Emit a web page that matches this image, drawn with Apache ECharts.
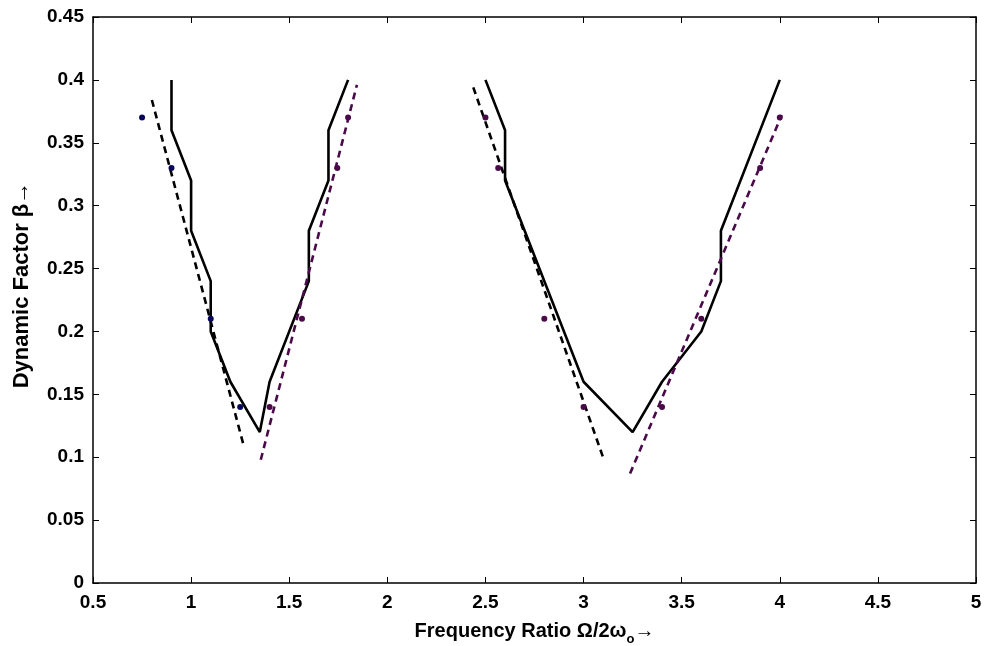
<!DOCTYPE html>
<html>
<head>
<meta charset="utf-8">
<script src="https://cdn.jsdelivr.net/npm/echarts@6/dist/echarts.min.js"></script>
<style>html,body{margin:0;padding:0;background:#fff}#c{width:989px;height:646px}</style>
</head>
<body>
<div id="c"></div>
<script>
// Solid curves (theoretical)
var leftSolidX = [0.9, 0.9, 1.0, 1.0, 1.1, 1.1, 1.2, 1.35, 1.4, 1.6, 1.6, 1.7, 1.7, 1.8];
var leftSolidY = [0.4, 0.36, 0.32, 0.28, 0.24, 0.2, 0.16, 0.12, 0.16, 0.24, 0.28, 0.32, 0.36, 0.4];
var rightSolidX = [2.5, 2.6, 2.6, 3.0, 3.25, 3.4, 3.6, 3.7, 3.7, 4.0];
var rightSolidY = [0.4, 0.36, 0.32, 0.16, 0.12, 0.16, 0.2, 0.24, 0.28, 0.4];
// Experimental points
var ptsNavyX = [0.75, 0.9, 1.1, 1.25];
var ptsNavyY = [0.37, 0.33, 0.21, 0.14];
var ptsPurpleX = [1.4, 1.565, 1.745, 1.8, 2.5, 2.565, 2.8, 3.0, 3.4, 3.6, 3.9, 4.0];
var ptsPurpleY = [0.14, 0.21, 0.33, 0.37, 0.37, 0.33, 0.21, 0.14, 0.14, 0.21, 0.33, 0.37];
// Fitted dashed lines (end points)
var fit1X = [0.8, 1.27];   var fit1Y = [0.384, 0.108];
var fit2X = [1.355, 1.845]; var fit2Y = [0.098, 0.396];
var fit3X = [2.438, 3.106]; var fit3Y = [0.394, 0.097];
var fit4X = [3.237, 4.01];  var fit4Y = [0.087, 0.372];

function zip(xs, ys){ return xs.map(function(x,i){ return [x, ys[i]]; }); }

var NAVY = '#08085a', PURPLE = '#4a0a4a';
var FONT = 'Liberation Sans, Arial, sans-serif';

function lineSeries(xs, ys, color, dashed){
  return {
    type: 'line', data: zip(xs, ys), showSymbol: false, symbol: 'none',
    lineStyle: { color: color, width: 2.6, type: dashed ? [7, 5] : 'solid' },
    z: 2, animation: false
  };
}

var chart = echarts.init(document.getElementById('c'), null, {renderer: 'canvas'});
var axisLine = { show: true, onZero: false, lineStyle: { color: '#000', width: 1.5 } };
chart.setOption({
  backgroundColor: '#fff',
  animation: false,
  grid: { left: 93, right: 13, top: 17, bottom: 63, containLabel: false, outerBoundsMode: 'none' },
  xAxis: [{
    type: 'value', min: 0.5, max: 5, interval: 0.5, position: 'bottom',
    axisLine: axisLine, splitLine: { show: false },
    axisTick: { inside: true, length: 6, lineStyle: { color: '#000', width: 1 } },
    axisLabel: { color: '#000', fontSize: 19, fontWeight: 'bold', fontFamily: FONT, margin: 10 },
    name: '{a|Frequency Ratio Ω/2ω}{s|o}{a|→}',
    nameLocation: 'middle', nameGap: 36,
    nameTextStyle: {
      fontFamily: FONT, color: '#000',
      rich: {
        a: { fontSize: 20, fontWeight: 'bold', fontFamily: FONT, color: '#000', lineHeight: 22 },
        s: { fontSize: 13, fontWeight: 'bold', fontFamily: FONT, color: '#000', padding: [16, 0, 0, 0], lineHeight: 22 }
      }
    }
  }, {
    type: 'value', min: 0.5, max: 5, interval: 0.5, position: 'top',
    axisLine: axisLine, splitLine: { show: false },
    axisTick: { inside: true, length: 6, lineStyle: { color: '#000', width: 1 } },
    axisLabel: { show: false }
  }],
  yAxis: [{
    type: 'value', min: 0, max: 0.45, interval: 0.05, position: 'left',
    axisLine: axisLine, splitLine: { show: false },
    axisTick: { inside: true, length: 6, lineStyle: { color: '#000', width: 1 } },
    axisLabel: { color: '#000', fontSize: 19, fontWeight: 'bold', fontFamily: FONT, margin: 9 },
    name: 'Dynamic Factor β→', nameLocation: 'middle', nameGap: 60,
    nameTextStyle: { fontSize: 22, fontWeight: 'bold', fontFamily: FONT, color: '#000', padding: [0, 0, 0, 30] }
  }, {
    type: 'value', min: 0, max: 0.45, interval: 0.05, position: 'right',
    axisLine: axisLine, splitLine: { show: false },
    axisTick: { inside: true, length: 6, lineStyle: { color: '#000', width: 1 } },
    axisLabel: { show: false }
  }],
  series: [
    lineSeries(leftSolidX, leftSolidY, '#000', false),
    lineSeries(rightSolidX, rightSolidY, '#000', false),
    lineSeries(fit1X, fit1Y, '#000', true),
    lineSeries(fit2X, fit2Y, PURPLE, true),
    lineSeries(fit3X, fit3Y, '#000', true),
    lineSeries(fit4X, fit4Y, PURPLE, true),
    { type: 'scatter', data: zip(ptsNavyX, ptsNavyY), symbolSize: 6, itemStyle: { color: NAVY, opacity: 1 }, z: 3 },
    { type: 'scatter', data: zip(ptsPurpleX, ptsPurpleY), symbolSize: 6, itemStyle: { color: PURPLE, opacity: 1 }, z: 3 }
  ]
});
</script>
</body>
</html>
